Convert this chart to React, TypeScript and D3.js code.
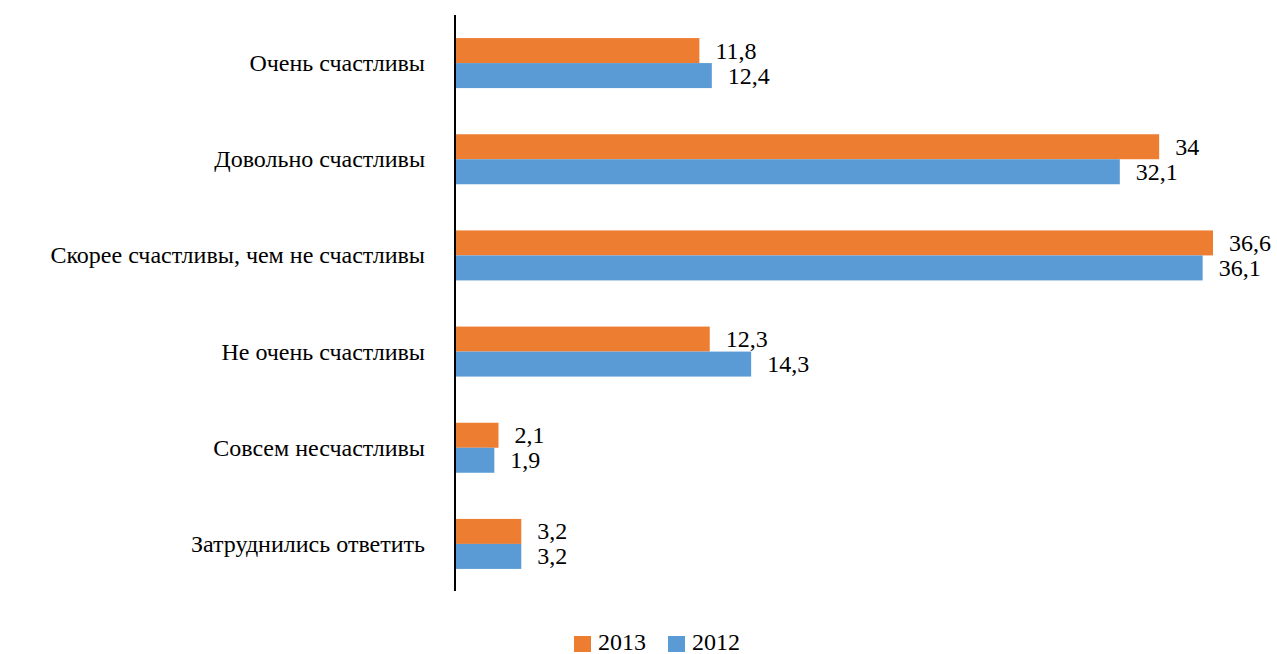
import React from "react";
import * as d3 from "d3";

const categories = [
  "Очень счастливы",
  "Довольно счастливы",
  "Скорее счастливы, чем не счастливы",
  "Не очень счастливы",
  "Совсем несчастливы",
  "Затруднились ответить",
];
const values2013 = [11.8, 34, 36.6, 12.3, 2.1, 3.2];
const values2012 = [12.4, 32.1, 36.1, 14.3, 1.9, 3.2];
const labels2013 = ["11,8", "34", "36,6", "12,3", "2,1", "3,2"];
const labels2012 = ["12,4", "32,1", "36,1", "14,3", "1,9", "3,2"];
const seriesNames = ["2013", "2012"];
const colors = ["#ED7D31", "#5B9BD5"];

export default function App() {
  const W = 1277, H = 654;
  const x0 = 455;
  const x = d3.scaleLinear().domain([0, 36.6]).range([x0, 1213]);
  const y = d3.scaleBand<string>().domain(categories).range([15, 592]).paddingInner(0.48).paddingOuter(0.24);
  const bh = y.bandwidth() / 2;
  const fs = 24;
  const series = [
    { vals: values2013, labels: labels2013 },
    { vals: values2012, labels: labels2012 },
  ];
  return (
    <svg width={W} height={H} style={{ position: "absolute", left: 0, top: 0, background: "#fff" }}>
      <style>{`.t { font-family: "Liberation Serif", "Times New Roman", Tinos, FreeSerif, serif; font-size: ${fs}px; fill: #000; }`}</style>
      {categories.map((c, i) => {
        const yc = (y(c) as number) + y.bandwidth() / 2;
        return (
          <g key={c}>
            <text className="t" x={425} y={yc + 8} textAnchor="end">{c}</text>
            {series.map((s, k) => {
              const yy = (y(c) as number) + k * bh;
              return (
                <g key={k}>
                  <rect x={x0} y={yy} width={x(s.vals[i]) - x0} height={bh} fill={colors[k]} />
                  <text className="t" x={x(s.vals[i]) + 16} y={yy + bh / 2 + 8}>{s.labels[i]}</text>
                </g>
              );
            })}
          </g>
        );
      })}
      <line x1={x0} x2={x0} y1={15} y2={591} stroke="#000" strokeWidth={2} />
      {seriesNames.map((n, k) => (
        <g key={n} transform={`translate(${574 + k * 94},0)`}>
          <rect x={0} y={636} width={17} height={16} fill={colors[k]} />
          <text className="t" x={24} y={650}>{n}</text>
        </g>
      ))}
    </svg>
  );
}
